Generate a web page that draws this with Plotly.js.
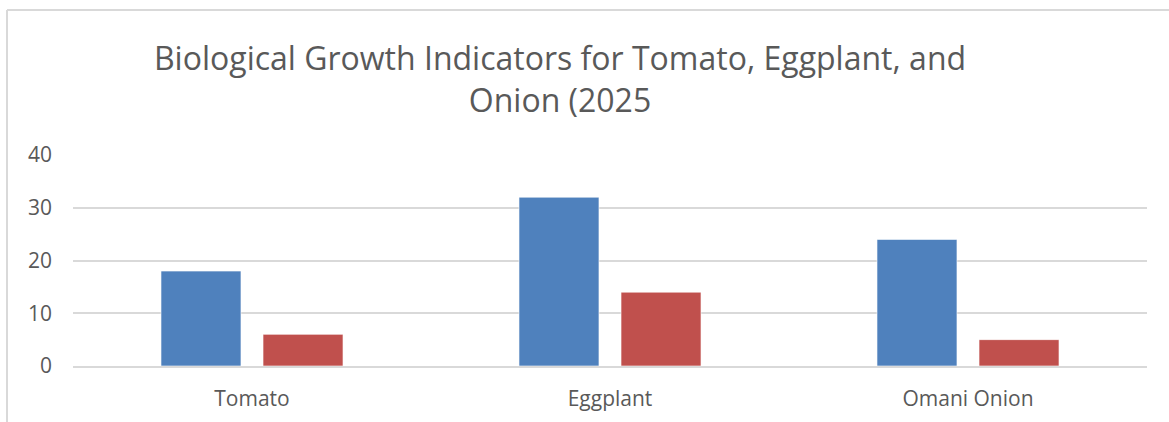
<!DOCTYPE html>
<html>
<head>
<meta charset="utf-8">
<script src="https://cdn.plot.ly/plotly-3.0.1.min.js"></script>
<style>html,body{margin:0;padding:0;background:#fff;}#chart{width:1169px;height:422px;}</style>
</head>
<body>
<div id="chart"></div>
<script>
const categories = ["Tomato", "Eggplant", "Omani Onion"];
const seriesA = [18, 32, 24];
const seriesB = [6, 14, 5];
const yTicks = [0, 10, 20, 30, 40];

const font = "Open Sans, sans-serif";
const traces = [
  {type: "bar", name: "Series 1", x: categories, y: seriesA,
   marker: {color: "#4F81BD", line: {color: "rgba(255,255,255,0.6)", width: 1}}},
  {type: "bar", name: "Series 2", x: categories, y: seriesB,
   marker: {color: "#C0504D", line: {color: "rgba(255,255,255,0.6)", width: 1}}}
];
const layout = {
  width: 1169, height: 422,
  margin: {l: 73, r: 22, t: 155, b: 56},
  paper_bgcolor: "#fff", plot_bgcolor: "#fff",
  showlegend: false,
  barmode: "group", bargap: 0.43, bargroupgap: 0.216,
  title: {text: "Biological Growth Indicators for Tomato, Eggplant, and<br>Onion (2025",
          font: {family: font, size: 32, color: "#595959"},
          xref: "container", yref: "container", x: 560/1169, xanchor: "center",
          y: 1 - 70/422, yanchor: "top"},
  xaxis: {tickfont: {family: font, size: 21, color: "#595959"}, showgrid: false,
          showline: true, linecolor: "#d9d9d9", linewidth: 1.5, ticks: "", ticklabelstandoff: 13},
  yaxis: {range: [0, 40], tickvals: yTicks, showgrid: true, gridcolor: "#d9d9d9", gridwidth: 1.5,
          zeroline: false, showline: false, ticks: "",
          tickfont: {family: font, size: 21, color: "#595959"}, ticklabelstandoff: 20},
  shapes: [
    {type: "line", xref: "paper", yref: "paper", x0: (7-73)/1074, x1: (7-73)/1074,
     y0: (366-10)/211, y1: (366-430)/211, line: {color: "#d9d9d9", width: 2}},
    {type: "line", xref: "paper", yref: "paper", x0: (7-73)/1074, x1: (1180-73)/1074,
     y0: (366-10)/211, y1: (366-10)/211, line: {color: "#d9d9d9", width: 2}}
  ]
};
Plotly.newPlot("chart", traces, layout, {displayModeBar: false});
</script>
</body>
</html>
